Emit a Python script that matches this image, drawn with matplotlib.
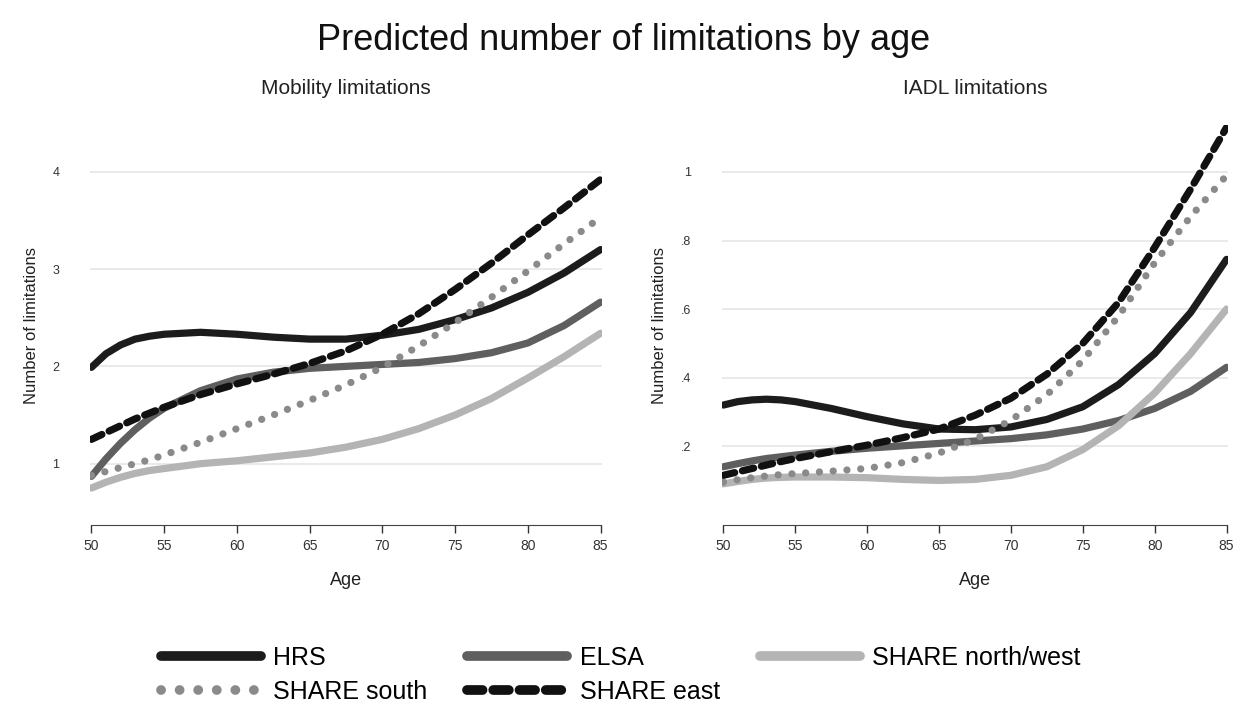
import numpy as np
import matplotlib.pyplot as plt
from matplotlib.lines import Line2D

plt.rcParams['font.family'] = ['Liberation Sans', 'DejaVu Sans']

age = [50, 51, 52, 53, 54, 55, 57.5, 60, 62.5, 65, 67.5, 70, 72.5, 75, 77.5, 80, 82.5, 85]

# Mobility limitations
mob_hrs = [1.99, 2.13, 2.22, 2.28, 2.31, 2.33, 2.35, 2.33, 2.30, 2.28, 2.28, 2.32, 2.38, 2.48, 2.60, 2.76, 2.96, 3.20]
mob_elsa = [0.87, 1.05, 1.21, 1.35, 1.47, 1.57, 1.75, 1.87, 1.94, 1.98, 2.00, 2.02, 2.04, 2.08, 2.14, 2.24, 2.42, 2.66]
mob_nw = [0.75, 0.81, 0.86, 0.90, 0.93, 0.95, 1.00, 1.03, 1.07, 1.11, 1.17, 1.25, 1.36, 1.50, 1.67, 1.88, 2.10, 2.34]
mob_south = [0.88, 0.92, 0.96, 1.00, 1.04, 1.09, 1.22, 1.36, 1.50, 1.65, 1.81, 1.99, 2.21, 2.45, 2.71, 2.98, 3.26, 3.53]
mob_east = [1.25, 1.32, 1.39, 1.46, 1.52, 1.58, 1.71, 1.82, 1.92, 2.03, 2.16, 2.33, 2.54, 2.79, 3.06, 3.35, 3.63, 3.92]

# IADL limitations
iadl_hrs = [0.32, 0.33, 0.335, 0.337, 0.335, 0.33, 0.31, 0.286, 0.265, 0.25, 0.248, 0.256, 0.278, 0.315, 0.38, 0.47, 0.59, 0.745]
iadl_elsa = [0.14, 0.149, 0.157, 0.164, 0.169, 0.174, 0.185, 0.194, 0.201, 0.208, 0.215, 0.222, 0.233, 0.25, 0.275, 0.31, 0.36, 0.43]
iadl_nw = [0.09, 0.097, 0.103, 0.107, 0.109, 0.11, 0.11, 0.108, 0.103, 0.10, 0.103, 0.115, 0.14, 0.19, 0.26, 0.355, 0.47, 0.60]
iadl_south = [0.095, 0.102, 0.108, 0.113, 0.117, 0.12, 0.127, 0.135, 0.152, 0.18, 0.22, 0.276, 0.35, 0.45, 0.58, 0.735, 0.87, 0.99]
iadl_east = [0.115, 0.125, 0.135, 0.145, 0.155, 0.164, 0.184, 0.203, 0.225, 0.25, 0.29, 0.34, 0.41, 0.50, 0.62, 0.78, 0.95, 1.13]

labels = ['HRS', 'ELSA', 'SHARE north/west', 'SHARE south', 'SHARE east']
mob_ticks = [1, 2, 3, 4]
mob_ticklabels = ['1', '2', '3', '4']
iadl_ticks = [0.2, 0.4, 0.6, 0.8, 1.0]
iadl_ticklabels = ['.2', '.4', '.6', '.8', '1']
age_ticks = [50, 55, 60, 65, 70, 75, 80, 85]

styles = [
    dict(color='#1c1c1c', ls='-'),
    dict(color='#5f5f5f', ls='-'),
    dict(color='#b4b4b4', ls='-'),
    dict(color='#8a8a8a', ls=(0, (0.01, 1.9))),
    dict(color='#111111', ls=(0, (1.6, 1.1))),
]
LW = 5.2

fig = plt.figure(figsize=(12.47, 7.09), dpi=100)
W, H = 1247, 709


def px_axes(x0, y0, x1, y1):
    return fig.add_axes([x0 / W, 1 - y1 / H, (x1 - x0) / W, (y1 - y0) / H])


def panel(ax, series, ticks, ticklabels, ylim, title):
    for s, st in zip(series, styles):
        ax.plot(age, s, color=st['color'], linestyle=st['ls'], lw=LW,
                solid_capstyle='round', dash_capstyle='round',
                solid_joinstyle='round', dash_joinstyle='round', zorder=3)
    ax.set_xlim(49.9, 85.1)
    ax.set_ylim(*ylim)
    ax.set_yticks(ticks)
    ax.set_yticklabels(ticklabels)
    ax.set_xticks(age_ticks)
    for t in ticks:
        ax.axhline(t, color='#e6e6e6', lw=1.2, zorder=1)
    for sp in ['top', 'right', 'left']:
        ax.spines[sp].set_visible(False)
    ax.spines['bottom'].set_bounds(50, 85)
    ax.spines['bottom'].set_color('#444444')
    ax.tick_params(axis='y', length=0, labelsize=9, pad=22, colors='#333333')
    ax.tick_params(axis='x', length=6, width=1, labelsize=10, colors='#333333', pad=4)
    ax.set_xlabel('Age', fontsize=13, labelpad=14, color='#222222')
    ax.set_ylabel('Number of limitations', fontsize=12, labelpad=10, color='#222222')
    ax.set_title(title, fontsize=15, pad=22, color='#222222')


ax1 = px_axes(90, 125, 602, 525)
panel(ax1, [mob_hrs, mob_elsa, mob_nw, mob_south, mob_east], mob_ticks, mob_ticklabels,
      (0.37, 4.48), 'Mobility limitations')

ax2 = px_axes(722, 125, 1228, 525)
panel(ax2, [iadl_hrs, iadl_elsa, iadl_nw, iadl_south, iadl_east], iadl_ticks, iadl_ticklabels,
      (-0.03, 1.137), 'IADL limitations')

fig.text(0.5, 1 - 40 / H, 'Predicted number of limitations by age', ha='center', va='center',
         fontsize=26, color='#111111')

handles = [Line2D([0], [0], color=st['color'], linestyle=st['ls'], lw=7,
                  solid_capstyle='round', dash_capstyle='round') for st in styles]
order = [0, 3, 1, 4, 2]
leg = fig.legend([handles[i] for i in order], [labels[i] for i in order], ncol=3,
                 loc='center left', bbox_to_anchor=(138 / W, 1 - 675 / H), frameon=False,
                 fontsize=18, handlelength=4.0, columnspacing=1.6, handletextpad=0.5,
                 labelspacing=0.4)

fig.savefig('out.png', dpi=100, facecolor='white')
